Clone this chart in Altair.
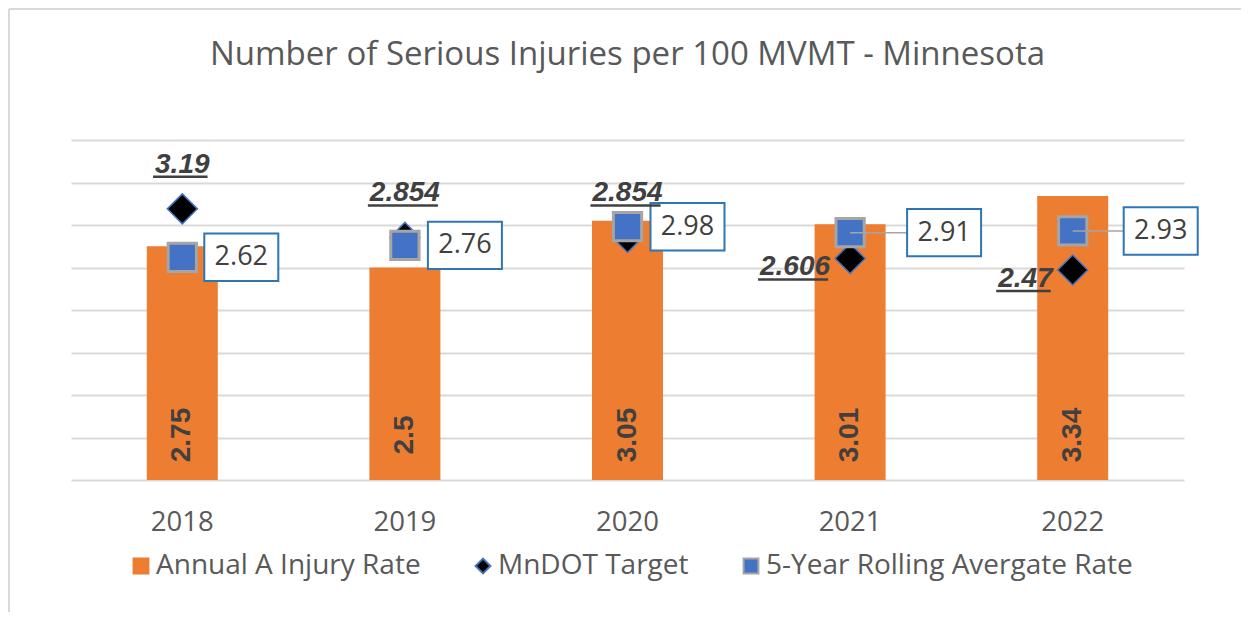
import altair as alt
import pandas as pd

# ---------------- data ----------------
years = ["2018", "2019", "2020", "2021", "2022"]
annual_rate = [2.75, 2.5, 3.05, 3.01, 3.34]
mndot_target = [3.19, 2.854, 2.854, 2.606, 2.47]
rolling_avg = [2.62, 2.76, 2.98, 2.91, 2.93]
series_names = ["Annual A Injury Rate", "MnDOT Target", "5-Year Rolling Avergate Rate"]
title_text = "Number of Serious Injuries per 100 MVMT - Minnesota"
grid_values = [0, 0.5, 1, 1.5, 2, 2.5, 3, 3.5, 4]

df = pd.DataFrame({
    "year": years,
    "annual": annual_rate,
    "target": mndot_target,
    "rolling": rolling_avg,
})
df["annual_label"] = [str(v) for v in annual_rate]
df["target_label"] = [str(v) for v in mndot_target]
df["rolling_label"] = [str(v) for v in rolling_avg]
df["s_annual"] = series_names[0]
df["s_target"] = series_names[1]
df["s_rolling"] = series_names[2]

# ---------------- style ----------------
ORANGE = "#ed7d31"
BLUE = "#4472c4"
BOX_BLUE = "#2e75b6"
GRAY = "#a5a5a5"
DARK = "#404040"
TXT = "#595959"
GRID = "#d9d9d9"
FONT = "Open Sans"
LFONT = "Liberation Sans"

W, H = 1113, 340

color_scale = alt.Scale(domain=series_names, range=[ORANGE, "#000000", BLUE])
shape_scale = alt.Scale(domain=series_names, range=["square", "diamond", "square"])
stroke_scale = alt.Scale(domain=series_names, range=[ORANGE, BLUE, GRAY])

X = alt.X("year:N", title=None, sort=years,
          axis=alt.Axis(labelAngle=0, ticks=False, domain=False, labelFont=FONT,
                        labelFontSize=27.5, labelColor=TXT, labelPadding=28))
yscale = alt.Scale(domain=[0, 4], nice=False, zero=True)


def Yf(field):
    return alt.Y(f"{field}:Q", scale=yscale, title=None,
                 axis=alt.Axis(values=grid_values, labels=False, ticks=False, domain=False,
                               grid=True, gridColor=GRID, gridWidth=2))


legend = alt.Legend(orient="none", legendX=56, legendY=412, direction="horizontal",
                    title=None, padding=0,
                    labelFont=FONT, labelFontSize=28, labelColor=TXT, labelLimit=600,
                    symbolSize=220, symbolStrokeWidth=2, columnPadding=48,
                    labelOffset=1)

base = alt.Chart(df)

bars = base.mark_bar(size=71, strokeWidth=0).encode(
    x=X, y=Yf("annual"),
    color=alt.Color("s_annual:N", scale=color_scale, legend=legend),
    stroke=alt.Stroke("s_annual:N", scale=stroke_scale, legend=legend),
)

bar_text = base.transform_calculate(zero="0").mark_text(
    angle=270, font=LFONT, fontSize=28, fontWeight="bold", color=DARK,
    align="center", baseline="middle", dx=45,
).encode(x=X, y=Yf("zero"), text="annual_label:N")

diamonds = base.mark_point(filled=True, size=900, strokeWidth=1.5, opacity=1).encode(
    x=X, y=Yf("target"),
    color=alt.Color("s_target:N", scale=color_scale, legend=legend),
    shape=alt.Shape("s_target:N", scale=shape_scale, legend=legend),
    stroke=alt.Stroke("s_target:N", scale=stroke_scale, legend=legend),
)

squares = base.mark_point(filled=True, size=800, strokeWidth=3, opacity=1).encode(
    x=X, y=Yf("rolling"),
    color=alt.Color("s_rolling:N", scale=color_scale, legend=legend),
    shape=alt.Shape("s_rolling:N", scale=shape_scale, legend=legend),
    stroke=alt.Stroke("s_rolling:N", scale=stroke_scale, legend=legend),
)

# label boxes for 5-year rolling average
box_dx = {"2018": 59, "2019": 60, "2020": 60, "2021": 94, "2022": 88}
BOX_PATH = "M-1,-0.64L1,-0.64L1,0.64L-1,0.64Z"
box_layers = []
for yr in years:
    d = box_dx[yr]
    f = base.transform_filter(alt.datum.year == yr)
    if d > 70:
        box_layers.append(
            f.mark_rule(color=GRAY, strokeWidth=1.5, x2Offset=d - 37).encode(
                x=X, x2=alt.X2("year:N"), y=Yf("rolling"))
        )
    box_layers.append(
        f.mark_point(shape=BOX_PATH, size=74 * 74, filled=True, fill="white",
                     stroke=BOX_BLUE, strokeWidth=2, opacity=1, xOffset=d).encode(
            x=X, y=Yf("rolling"))
    )
    box_layers.append(
        f.mark_text(font=FONT, fontSize=27, color=DARK, dx=d, align="center",
                    baseline="middle").encode(x=X, y=Yf("rolling"), text="rolling_label:N")
    )

# MnDOT target labels (bold italic, underlined)
CHAR_W = {"0": 0.556, "1": 0.556, "2": 0.556, "3": 0.556, "4": 0.556, "5": 0.556,
          "6": 0.556, "7": 0.556, "8": 0.556, "9": 0.556, ".": 0.278}
TFS = 28
place = {"2018": "above", "2019": "above", "2020": "above", "2021": "left", "2022": "left"}
tlabel_layers = []
for yr, lab in zip(years, [str(v) for v in mndot_target]):
    f = base.transform_filter(alt.datum.year == yr)
    w = sum(CHAR_W[c] for c in lab) * TFS
    if place[yr] == "above":
        align, dx, dy = "center", 0, -36
        x0, x1 = -w / 2, w / 2
    else:
        align, dx, dy = "right", -20, 17
        x0, x1 = -20 - w, -20
    tlabel_layers.append(
        f.mark_text(font=LFONT, fontSize=TFS, fontWeight="bold", fontStyle="italic",
                    color=DARK, align=align, baseline="alphabetic", dx=dx, dy=dy).encode(
            x=X, y=Yf("target"), text="target_label:N")
    )
    tlabel_layers.append(
        f.mark_rule(color=DARK, strokeWidth=2.5, xOffset=x0 - 2, x2Offset=x1 - 2,
                    yOffset=dy + 4).encode(x=X, x2=alt.X2("year:N"), y=Yf("target"))
    )

# outer frame (top and left edges)
one = alt.Chart(pd.DataFrame({"k": [0]}))
frame_top = one.mark_rule(color=GRID, strokeWidth=2).encode(
    x=alt.value(-62), x2=alt.value(1170), y=alt.value(-131))
frame_left = one.mark_rule(color=GRID, strokeWidth=2).encode(
    x=alt.value(-62), y=alt.value(-131), y2=alt.value(472))

chart = alt.layer(
    frame_top, frame_left, bars, bar_text, diamonds, squares,
    *box_layers, *tlabel_layers,
).resolve_scale(color="shared", shape="shared", stroke="shared").properties(
    width=W, height=H,
    padding={"left": 0, "top": 0, "right": 0, "bottom": 0},
    title=alt.Title(title_text, font=FONT, fontSize=33, fontWeight="normal",
                    color=TXT, anchor="middle", offset=0, dy=64),
).configure(background="white").configure_view(stroke=None)

chart.save("out.html", embed_options={"renderer": "svg", "actions": False})
